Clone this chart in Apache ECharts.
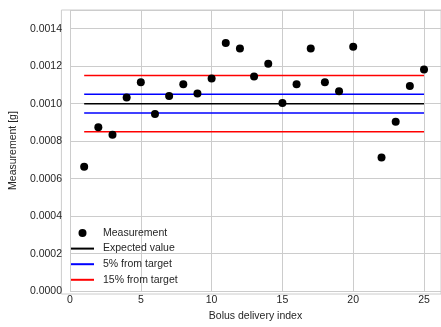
<!DOCTYPE html>
<html>
<head>
<meta charset="utf-8">
<script src="https://cdn.jsdelivr.net/npm/echarts@6/dist/echarts.min.js"></script>
<style>
html,body{margin:0;padding:0;background:#fff;}
#chart{width:441px;height:327px;}
</style>
</head>
<body>
<div id="chart"></div>
<script>
// ---- data ----
const bolusIndex = [1,2,3,4,5,6,7,8,9,10,11,12,13,14,15,16,17,18,19,20,22,23,24,25];
const measurement = [0.000664,0.000875,0.000834,0.001033,0.001115,0.000945,0.001041,0.001104,0.001054,0.001134,
                     0.001324,0.001294,0.001145,0.001213,0.001004,0.001104,0.001294,0.001115,0.001066,0.001304,
                     0.000713,0.000904,0.001094,0.001183];
const lineRange = [1, 25];
const expectedValue = 0.0010;
const band5 = [0.00095, 0.00105];
const band15 = [0.00085, 0.00115];
const xTicks = [0,5,10,15,20,25];
const yTicks = [0,0.0002,0.0004,0.0006,0.0008,0.0010,0.0012,0.0014];
const legendNames = ['Measurement','Expected value','5% from target','15% from target'];

const FONT = 'Liberation Sans';
const TXT = '#262626';
const GRID = '#cccccc';

function hline(name, y, color){
  return {
    name: name, type: 'line', xAxisIndex: 0, yAxisIndex: 0,
    data: [[lineRange[0], y],[lineRange[1], y]],
    symbol: 'none', lineStyle: {color: color, width: 1.5}, itemStyle:{color: color},
    z: 2, silent: true, animation: false
  };
}

const chart = echarts.init(document.getElementById('chart'), null, {renderer:'canvas'});
chart.setOption({
  animation: false,
  backgroundColor: '#ffffff',
  textStyle: {fontFamily: FONT, color: TXT},
  grid: [
    {left: 64.3, right: -2.4, top: 10, bottom: 33, show: false},
    {left: 61.4, right: -2.4, top: 10, bottom: 33, show: true, borderColor: GRID, borderWidth: 1, backgroundColor: 'transparent'}
  ],
  xAxis: [
    {gridIndex: 0, type: 'value', min: xTicks[0], max: 26.2, interval: 5,
     axisLine:{show:false}, axisTick:{show:false},
     splitLine:{show:true, lineStyle:{color: GRID, width: 1}},
     axisLabel:{show:true, margin: 4, fontSize: 10.5, color: TXT, fontFamily: FONT, showMaxLabel: false,
       formatter: v => xTicks.includes(v) ? String(v) : ''},
     name: 'Bolus delivery index', nameLocation: 'middle', nameGap: 16,
     nameTextStyle:{fontSize: 10.5, color: TXT, fontFamily: FONT}},
    {gridIndex: 1, type: 'value', min: -0.2, max: 26.2, show: false}
  ],
  yAxis: [
    {gridIndex: 0, type: 'value', min: yTicks[0], max: 0.0015, interval: 0.0002,
     axisLine:{show:false}, axisTick:{show:false},
     splitLine:{show:true, lineStyle:{color: GRID, width: 1}},
     axisLabel:{show:true, margin: 8, fontSize: 10.5, color: TXT, fontFamily: FONT, showMaxLabel: false,
       formatter: v => v.toFixed(4)},
     name: 'Measurement [g]', nameLocation: 'middle', nameGap: 42,
     nameTextStyle:{fontSize: 10.5, color: TXT, fontFamily: FONT}},
    {gridIndex: 1, type: 'value', min: 0, max: 0.0015, show: false}
  ],
  legend: {
    data: [
      {name: legendNames[0], icon: 'circle'},
      {name: legendNames[1], itemStyle: {opacity: 0}},
      {name: legendNames[2], itemStyle: {opacity: 0}},
      {name: legendNames[3], itemStyle: {opacity: 0}}
    ],
    orient: 'vertical', left: 70, top: 227, padding: 0,
    itemWidth: 23, itemHeight: 8, itemGap: 3.6,
    textStyle: {fontSize: 10.5, color: TXT, fontFamily: FONT, lineHeight: 12, padding:[0,0,0,4]},
    selectedMode: false
  },
  series: [
    {name: legendNames[0], type: 'scatter', xAxisIndex: 0, yAxisIndex: 0,
     data: bolusIndex.map((x,i)=>[x, measurement[i]]),
     symbol: 'circle', symbolSize: 8, itemStyle: {color: '#000000', opacity: 1}, z: 5},
    hline(legendNames[1], expectedValue, '#000000'),
    hline(legendNames[2], band5[0], '#0000ff'),
    hline(legendNames[2], band5[1], '#0000ff'),
    hline(legendNames[3], band15[0], '#ff0000'),
    hline(legendNames[3], band15[1], '#ff0000')
  ]
});
</script>
</body>
</html>
